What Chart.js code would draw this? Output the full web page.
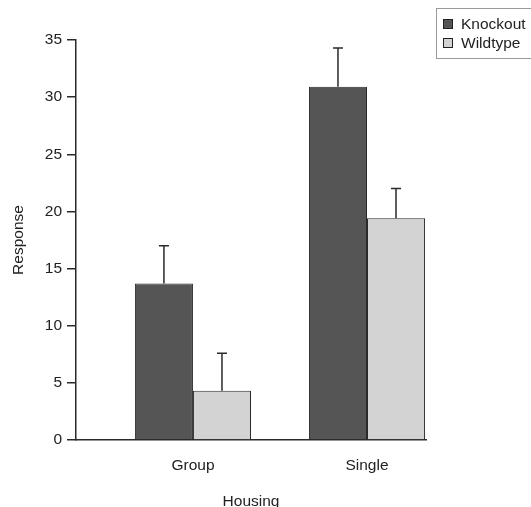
<!DOCTYPE html>
<html>
<head>
<meta charset="utf-8">
<script src="https://cdn.jsdelivr.net/npm/chart.js@4.4.0/dist/chart.umd.min.js"></script>
<style>
  html, body { margin: 0; padding: 0; background: #fff; }
  #wrap { position: relative; width: 531px; height: 507px; overflow: hidden; }
  #legend {
    position: absolute; left: 436px; top: 8px; width: 120px; height: 51px;
    border: 1px solid #9a9a9a; box-sizing: border-box;
    font: 15.5px "Liberation Sans", Arial, sans-serif; color: #222;
    padding-top: 5px;
  }
  .item { height: 19px; line-height: 19px; white-space: nowrap; }
  .swatch { display: inline-block; width: 8px; height: 8px; border: 1px solid #222; margin: 0 8px 0 6px; vertical-align: 0px; }
</style>
</head>
<body>
<div id="wrap">
  <canvas id="chart" width="531" height="507"></canvas>
  <div id="legend"></div>
</div>
<script>
// 数据
const categories = ['Group', 'Single'];
const knockout = [13.7, 30.9];
const knockoutErr = [3.3, 3.4];
const wildtype = [4.3, 19.4];
const wildtypeErr = [3.3, 2.6];
const yTicks = [0, 5, 10, 15, 20, 25, 30, 35];

const FONT = '"Liberation Sans", Arial, sans-serif';
const FONT_SIZE = 15.5;
const colors = { knockout: '#555555', wildtype: '#d3d3d3' };

// 误差线
const errorBars = {
  id: 'errorBars',
  afterDatasetsDraw(chart) {
    const ctx = chart.ctx;
    const yScale = chart.scales.y;
    ctx.save();
    ctx.strokeStyle = '#2a2a2a';
    ctx.lineWidth = 1.5;
    chart.data.datasets.forEach((ds, di) => {
      const meta = chart.getDatasetMeta(di);
      meta.data.forEach((bar, i) => {
        const top = yScale.getPixelForValue(ds.data[i].y + ds.errors[i]);
        ctx.beginPath();
        ctx.moveTo(bar.x, bar.y);
        ctx.lineTo(bar.x, top);
        ctx.moveTo(bar.x - 5, top);
        ctx.lineTo(bar.x + 5, top);
        ctx.stroke();
      });
    });
    ctx.restore();
  }
};

function toPoints(values) {
  return values.map((v, i) => ({ x: i, y: v }));
}

const chart = new Chart(document.getElementById('chart'), {
  type: 'bar',
  data: {
    datasets: [
      { label: 'Knockout', data: toPoints(knockout), errors: knockoutErr,
        backgroundColor: colors.knockout, borderColor: '#2a2a2a', borderWidth: 1 },
      { label: 'Wildtype', data: toPoints(wildtype), errors: wildtypeErr,
        backgroundColor: colors.wildtype, borderColor: '#2a2a2a', borderWidth: 1 }
    ]
  },
  options: {
    responsive: false,
    animation: false,
    categoryPercentage: 0.667,
    barPercentage: 1,
    layout: { padding: { top: 40, right: 105, left: 0, bottom: 0 } },
    plugins: { legend: { display: false }, tooltip: { enabled: false } },
    scales: {
      x: {
        type: 'linear',
        offset: false,
        min: -0.672,
        max: 1.339,
        afterBuildTicks: s => { s.ticks = categories.map((c, i) => ({ value: i })); },
        afterFit: s => { s.height = 67; },
        grid: { display: false },
        border: { display: true, color: '#2a2a2a', width: 1.5 },
        ticks: {
          callback: v => categories[v],
          font: { family: FONT, size: FONT_SIZE }, color: '#222', padding: 8, maxRotation: 0
        },
        title: { display: true, text: 'Housing', font: { family: FONT, size: FONT_SIZE }, color: '#222', padding: { top: 0, bottom: -4 } }
      },
      y: {
        min: 0,
        max: 35,
        afterBuildTicks: s => { s.ticks = yTicks.map(v => ({ value: v })); },
        afterFit: s => { s.width = 76; },
        grid: { drawOnChartArea: false, drawTicks: true, tickLength: 9, color: '#2a2a2a', lineWidth: 1.5 },
        border: { display: true, color: '#2a2a2a', width: 1.5 },
        ticks: { font: { family: FONT, size: FONT_SIZE }, color: '#222', padding: 5 },
        title: { display: true, text: 'Response', font: { family: FONT, size: FONT_SIZE }, color: '#222', padding: { top: 9, bottom: 0 } }
      }
    }
  },
  plugins: [errorBars]
});

// 图例
document.getElementById('legend').innerHTML = chart.data.datasets.map(ds =>
  `<div class="item"><span class="swatch" style="background:${ds.backgroundColor}"></span>${ds.label}</div>`
).join('');
</script>
</body>
</html>
